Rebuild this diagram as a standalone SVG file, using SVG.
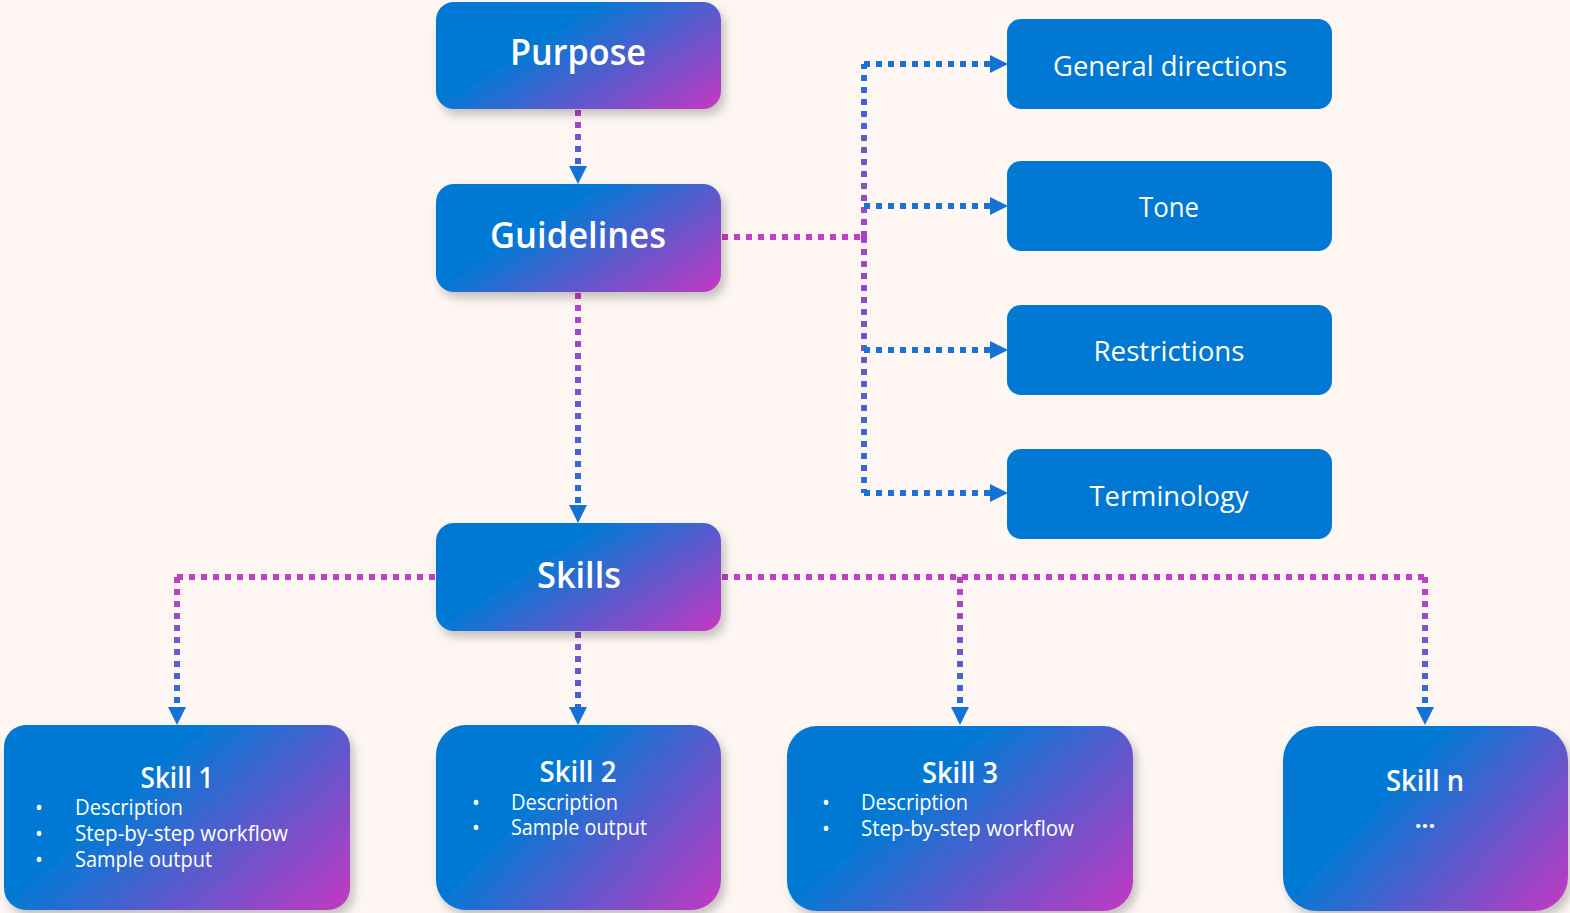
<svg xmlns="http://www.w3.org/2000/svg" width="1570" height="913" viewBox="0 0 1570 913">
<defs>
<style>
.t{font-family:"Open Sans","Noto Sans","Liberation Sans",sans-serif;fill:#ffffff;}
.h1{font-size:36px;font-weight:600;text-anchor:middle;}
.h2{font-size:29px;font-weight:600;text-anchor:middle;}
.r{font-size:27px;font-weight:400;text-anchor:middle;}
.b{font-size:21px;font-weight:400;}
.c{fill:none;stroke-width:6;stroke-dasharray:6 6;}
.mag{stroke:#c13fc4;}
.blu{stroke:#1a72d6;}
.box{fill:#0078d4;}
</style>
<linearGradient id="ng" x1="0" y1="0.3" x2="1" y2="0.9">
<stop offset="0" stop-color="#0078d4"/>
<stop offset="0.3" stop-color="#0479d4"/>
<stop offset="0.65" stop-color="#6058cc"/>
<stop offset="1" stop-color="#b93cc3"/>
</linearGradient>
<linearGradient id="g1" gradientUnits="userSpaceOnUse" x1="0" y1="110" x2="0" y2="166">
<stop offset="0" stop-color="#c13fc4"/><stop offset="1" stop-color="#2a6ad6"/>
</linearGradient>
<linearGradient id="g2" gradientUnits="userSpaceOnUse" x1="0" y1="293" x2="0" y2="505">
<stop offset="0" stop-color="#c13fc4"/><stop offset="1" stop-color="#1a72d6"/>
</linearGradient>
<linearGradient id="gup" gradientUnits="userSpaceOnUse" x1="0" y1="237" x2="0" y2="64">
<stop offset="0" stop-color="#b040c6"/><stop offset="1" stop-color="#1a72d6"/>
</linearGradient>
<linearGradient id="gdn" gradientUnits="userSpaceOnUse" x1="0" y1="237" x2="0" y2="493">
<stop offset="0" stop-color="#b040c6"/><stop offset="1" stop-color="#1a72d6"/>
</linearGradient>
<linearGradient id="gs" gradientUnits="userSpaceOnUse" x1="0" y1="590" x2="0" y2="707">
<stop offset="0" stop-color="#c13fc4"/><stop offset="1" stop-color="#1a72d6"/>
</linearGradient>
<linearGradient id="gs2" gradientUnits="userSpaceOnUse" x1="0" y1="632" x2="0" y2="707">
<stop offset="0" stop-color="#8a4fcc"/><stop offset="1" stop-color="#3a64d4"/>
</linearGradient>
<marker id="ar" markerUnits="userSpaceOnUse" markerWidth="18" markerHeight="18" viewBox="0 0 17 17" refX="0" refY="8.5" orient="auto">
<path d="M0,0 L17,8.5 L0,17 z" fill="#1272d6"/>
</marker>
<filter id="sh" x="-10%" y="-20%" width="125%" height="150%">
<feDropShadow dx="4" dy="6" stdDeviation="5" flood-color="#000" flood-opacity="0.22"/>
</filter>
</defs>
<rect width="1570" height="913" fill="#fdf6f3"/>

<g id="connectors">
<path class="c" stroke="url(#g1)" d="M578,110 L578,166" marker-end="url(#ar)"/>
<path class="c" stroke="url(#g2)" d="M578,293 L578,505" marker-end="url(#ar)"/>
<path class="c mag" d="M722,237 L864,237"/>
<path class="c" stroke="url(#gup)" d="M864,237 L864,64"/>
<path class="c" stroke="url(#gdn)" d="M864,237 L864,493"/>
<path class="c blu" d="M864,64 L990,64" marker-end="url(#ar)"/>
<path class="c blu" d="M864,206 L990,206" marker-end="url(#ar)"/>
<path class="c blu" d="M864,350 L990,350" marker-end="url(#ar)"/>
<path class="c blu" d="M864,493 L990,493" marker-end="url(#ar)"/>
<path class="c mag" d="M435,577 L177,577"/>
<path class="c" stroke="url(#gs)" d="M177,577 L177,707" marker-end="url(#ar)"/>
<path class="c" stroke="url(#gs2)" d="M578,632 L578,707" marker-end="url(#ar)"/>
<path class="c mag" d="M722,577 L1425,577"/>
<path class="c" stroke="url(#gs)" d="M960,577 L960,707" marker-end="url(#ar)"/>
<path class="c" stroke="url(#gs)" d="M1425,577 L1425,707" marker-end="url(#ar)"/>
</g>

<g id="purpose">
<rect x="436" y="2" width="285" height="107" rx="18" fill="url(#ng)" filter="url(#sh)"/>
<text class="t h1" x="578" y="65" textLength="136" lengthAdjust="spacingAndGlyphs">Purpose</text>
</g>
<g id="guidelines">
<rect x="436" y="184" width="285" height="108" rx="18" fill="url(#ng)" filter="url(#sh)"/>
<text class="t h1" x="578" y="248" textLength="176" lengthAdjust="spacingAndGlyphs">Guidelines</text>
</g>
<g id="skills">
<rect x="436" y="523" width="285" height="108" rx="18" fill="url(#ng)" filter="url(#sh)"/>
<text class="t h1" x="579" y="588" textLength="84" lengthAdjust="spacingAndGlyphs">Skills</text>
</g>

<g id="general-directions">
<rect class="box" x="1007" y="19" width="325" height="90" rx="14"/>
<text class="t r" x="1170" y="76" textLength="234" lengthAdjust="spacingAndGlyphs">General directions</text>
</g>
<g id="tone">
<rect class="box" x="1007" y="161" width="325" height="90" rx="14"/>
<text class="t r" x="1169" y="217" textLength="60" lengthAdjust="spacingAndGlyphs">Tone</text>
</g>
<g id="restrictions">
<rect class="box" x="1007" y="305" width="325" height="90" rx="14"/>
<text class="t r" x="1169" y="361" textLength="151" lengthAdjust="spacingAndGlyphs">Restrictions</text>
</g>
<g id="terminology">
<rect class="box" x="1007" y="449" width="325" height="90" rx="14"/>
<text class="t r" x="1169" y="506" textLength="159" lengthAdjust="spacingAndGlyphs">Terminology</text>
</g>

<g id="skill1">
<rect x="4" y="725" width="346" height="185" rx="22" fill="url(#ng)" filter="url(#sh)"/>
<text class="t h2" x="177" y="788" textLength="73" lengthAdjust="spacingAndGlyphs">Skill 1</text>
<text class="t b" x="35" y="815">•</text>
<text class="t b" x="75" y="815" textLength="108" lengthAdjust="spacingAndGlyphs">Description</text>
<text class="t b" x="35" y="841">•</text>
<text class="t b" x="75" y="841" textLength="213" lengthAdjust="spacingAndGlyphs">Step-by-step workflow</text>
<text class="t b" x="35" y="867">•</text>
<text class="t b" x="75" y="867" textLength="137" lengthAdjust="spacingAndGlyphs">Sample output</text>
</g>
<g id="skill2">
<rect x="436" y="725" width="285" height="185" rx="30" fill="url(#ng)" filter="url(#sh)"/>
<text class="t h2" x="578" y="782" textLength="77" lengthAdjust="spacingAndGlyphs">Skill 2</text>
<text class="t b" x="472" y="810">•</text>
<text class="t b" x="511" y="810" textLength="107" lengthAdjust="spacingAndGlyphs">Description</text>
<text class="t b" x="472" y="835">•</text>
<text class="t b" x="511" y="835" textLength="136" lengthAdjust="spacingAndGlyphs">Sample output</text>
</g>
<g id="skill3">
<rect x="787" y="726" width="346" height="185" rx="30" fill="url(#ng)" filter="url(#sh)"/>
<text class="t h2" x="960" y="783" textLength="76" lengthAdjust="spacingAndGlyphs">Skill 3</text>
<text class="t b" x="822" y="810">•</text>
<text class="t b" x="861" y="810" textLength="107" lengthAdjust="spacingAndGlyphs">Description</text>
<text class="t b" x="822" y="836">•</text>
<text class="t b" x="861" y="836" textLength="213" lengthAdjust="spacingAndGlyphs">Step-by-step workflow</text>
</g>
<g id="skilln">
<rect x="1283" y="726" width="285" height="185" rx="34" fill="url(#ng)" filter="url(#sh)"/>
<text class="t h2" x="1425" y="791" textLength="78" lengthAdjust="spacingAndGlyphs">Skill n</text>
<text class="t b" x="1425" y="828" style="text-anchor:middle;font-size:24px;font-weight:700">...</text>
</g>
</svg>
